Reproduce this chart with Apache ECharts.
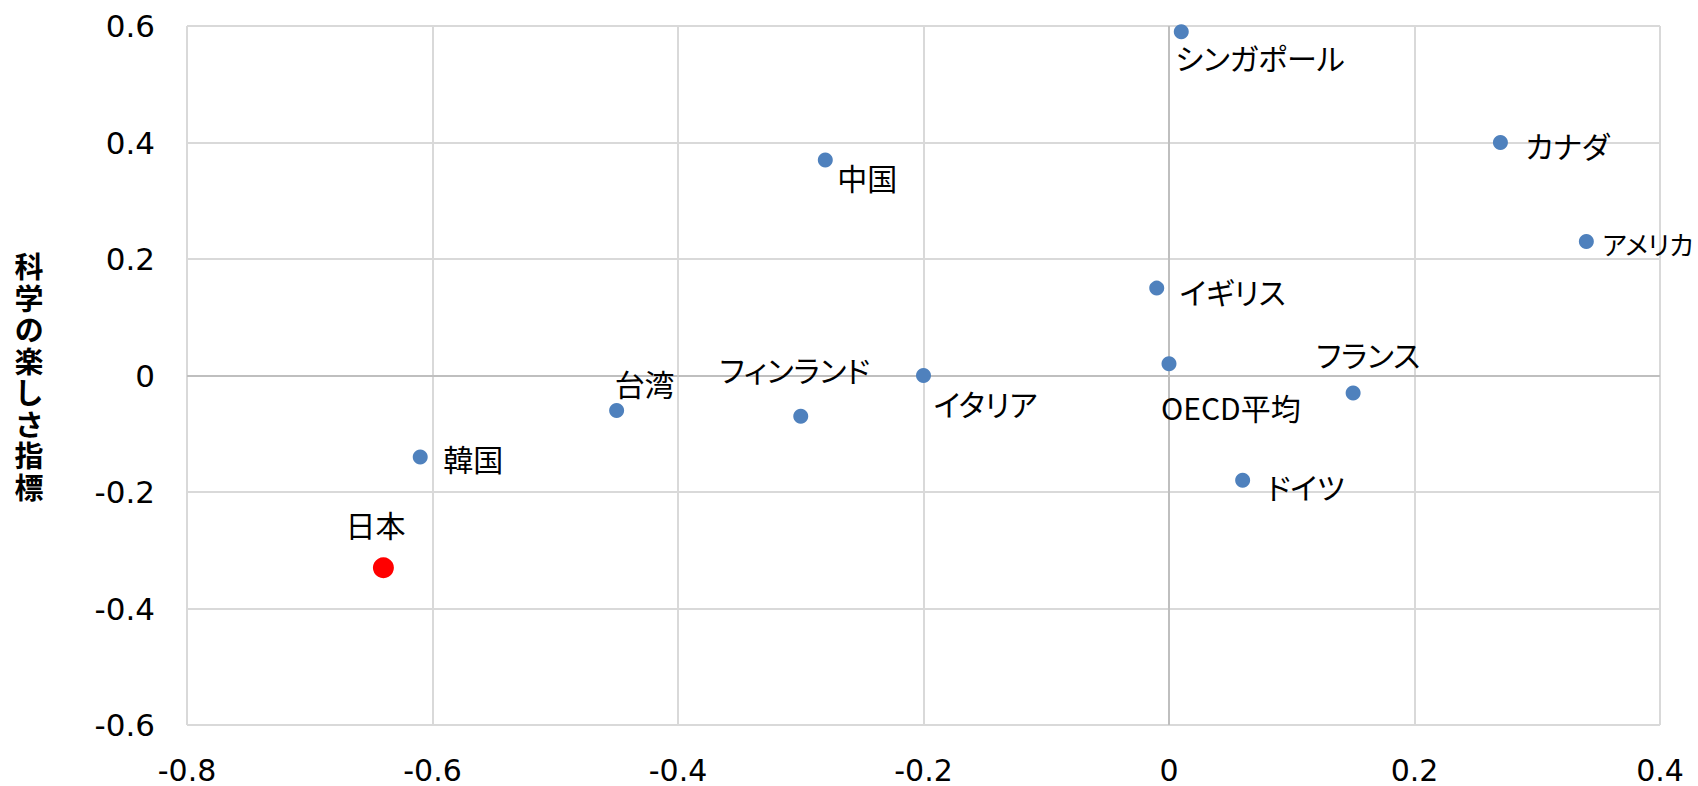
<!DOCTYPE html>
<html>
<head>
<meta charset="utf-8">
<script src="https://cdn.jsdelivr.net/npm/echarts@6/dist/echarts.min.js"></script>
<style>
  html, body { margin: 0; padding: 0; background: #ffffff; }
  #chart { width: 1698px; height: 786px; }
  /* proportional kana widths for the Japanese labels */
  #chart text { font-feature-settings: "palt"; }
</style>
</head>
<body>
<div id="chart"></div>
<script>
// 国・地域ごとの指標値
const countries = ['日本', '韓国', '台湾', 'フィンランド', '中国', 'イタリア', 'イギリス',
                   'OECD平均', 'シンガポール', 'ドイツ', 'フランス', 'カナダ', 'アメリカ'];
const xValues = [-0.64, -0.61, -0.45, -0.30, -0.28, -0.20, -0.01, 0.00, 0.01, 0.06, 0.15, 0.27, 0.34];
const yValues = [-0.33, -0.14, -0.06, -0.07, 0.37, 0.00, 0.15, 0.02, 0.59, -0.18, -0.03, 0.40, 0.23];
const yAxisTitle = '科学の楽しさ指標';
const xTicks = [-0.8, -0.6, -0.4, -0.2, 0, 0.2, 0.4];
const yTicks = [-0.6, -0.4, -0.2, 0, 0.2, 0.4, 0.6];
const highlighted = '日本';

// ラベルの配置（点の中心からのずれ, px）; 右端のラベルは少し小さくして枠内に収める
const labelPlacement = {
  '日本':       { align: 'center', offset: [-8, -44] },
  '韓国':       { align: 'left',   offset: [23, 1] },
  '台湾':       { align: 'left',   offset: [-2, -27] },
  'フィンランド': { align: 'center', offset: [-6, -47] },
  '中国':       { align: 'left',   offset: [12, 17] },
  'イタリア':    { align: 'left',   offset: [10, 27] },
  'イギリス':    { align: 'left',   offset: [23, 3] },
  'OECD平均':   { align: 'left',   offset: [-8, 43] },
  'シンガポール': { align: 'left',   offset: [-6, 25] },
  'ドイツ':      { align: 'left',   offset: [24, 6] },
  'フランス':    { align: 'center', offset: [15, -39] },
  'カナダ':      { align: 'left',   offset: [25, 2] },
  'アメリカ':    { align: 'left',   offset: [16, 2], size: 26 }
};

const CJK = '"Noto Sans CJK JP", "Noto Sans", sans-serif';
const NUM = '"DejaVu Sans", Verdana, sans-serif';
const GRID_COLOR = '#d9d9d9';
const ZERO_COLOR = '#bfbfbf';

const points = countries.map((name, i) => {
  const isHi = name === highlighted;
  const place = labelPlacement[name];
  return {
    name: name,
    value: [xValues[i], yValues[i]],
    symbolSize: isHi ? 21 : 15,
    itemStyle: { color: isHi ? '#ff0000' : '#4f81bd', opacity: 1 },
    label: {
      show: true,
      position: 'inside',
      align: place.align,
      verticalAlign: 'middle',
      offset: place.offset,
      formatter: '{b}',
      color: '#000000',
      fontFamily: CJK,
      fontSize: place.size || 30
    }
  };
});

const chart = echarts.init(document.getElementById('chart'), null, { renderer: 'svg' });

const tickFormatter = v => String(Math.round(v * 10) / 10);

chart.setOption({
  backgroundColor: '#ffffff',
  animation: false,
  grid: { left: 187, top: 26, right: 38, bottom: 61, containLabel: false },
  xAxis: {
    type: 'value',
    min: xTicks[0],
    max: xTicks[xTicks.length - 1],
    interval: 0.2,
    axisLine: { show: false },
    axisTick: { show: false },
    axisLabel: {
      margin: 30,
      lineHeight: 30,
      color: '#000000',
      fontFamily: NUM,
      fontSize: 30,
      formatter: tickFormatter
    },
    splitLine: { show: true, lineStyle: { color: GRID_COLOR, width: 2 } }
  },
  yAxis: {
    type: 'value',
    min: yTicks[0],
    max: yTicks[yTicks.length - 1],
    interval: 0.2,
    name: yAxisTitle.split('').join('\n'),
    nameLocation: 'middle',
    nameRotate: 0,
    nameGap: 158,
    nameTextStyle: {
      fontFamily: CJK,
      fontWeight: 'bold',
      fontSize: 29,
      lineHeight: 31.5,
      color: '#000000',
      align: 'center',
      verticalAlign: 'middle',
      padding: [22, 0, 0, 0]
    },
    axisLine: { show: false },
    axisTick: { show: false },
    axisLabel: {
      margin: 32,
      color: '#000000',
      fontFamily: NUM,
      fontSize: 31,
      formatter: tickFormatter
    },
    splitLine: { show: true, lineStyle: { color: GRID_COLOR, width: 2 } }
  },
  series: [{
    type: 'scatter',
    data: points,
    z: 3,
    markLine: {
      silent: true,
      symbol: 'none',
      label: { show: false },
      lineStyle: { color: ZERO_COLOR, width: 2, type: 'solid' },
      data: [{ xAxis: 0 }, { yAxis: 0 }],
      z: 1
    }
  }]
});
</script>
</body>
</html>
